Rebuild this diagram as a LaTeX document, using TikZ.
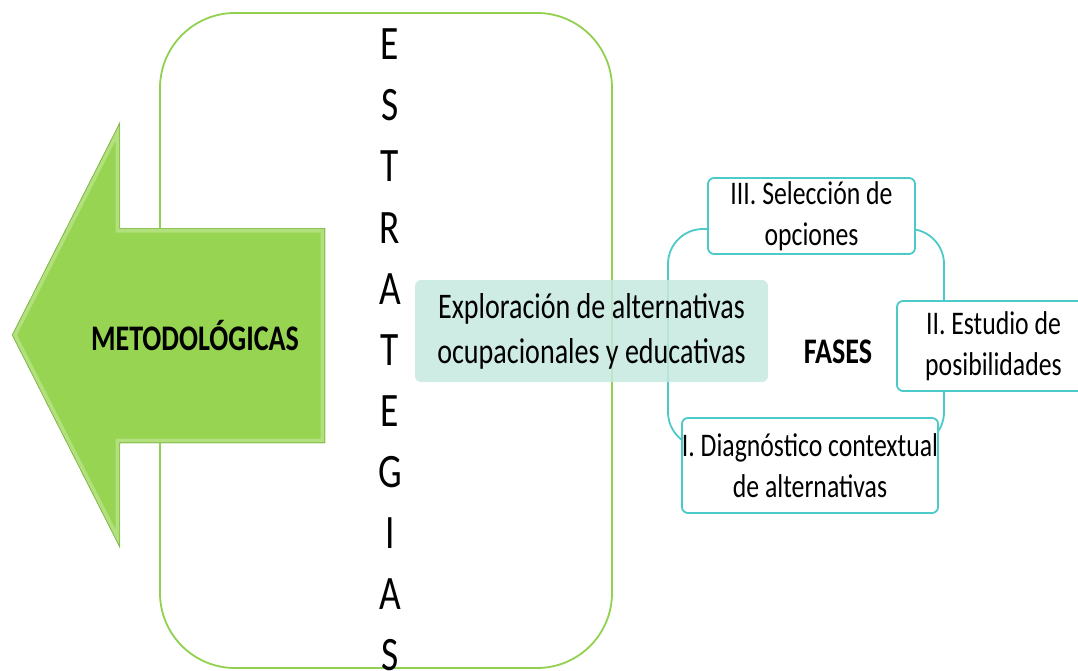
\documentclass[tikz,border=0pt]{standalone}
\usepackage{fontspec}
\setmainfont{Carlito}[FakeStretch=0.78]
\definecolor{lgreen}{HTML}{92D050}
\definecolor{arrowfill}{HTML}{96D451}
\definecolor{arrowrim}{HTML}{B2E07C}
\definecolor{tealc}{HTML}{4CC9C9}
\definecolor{mint}{HTML}{C5E9DF}
\begin{document}
\begin{tikzpicture}[x=1pt,y=-1pt,
  phase/.style={draw=tealc, line width=1.8pt, fill=white, rounded corners=6pt,
    inner sep=0pt, align=center, font=\fontsize{33pt}{41pt}\selectfont},
  letter/.style={anchor=base, inner sep=0pt, font=\fontsize{48pt}{58pt}\selectfont}]
\useasboundingbox (0,0) rectangle (1078,671);
\clip (0,0) rectangle (1078,671);
% big green frame
\draw[lgreen, line width=1.8pt, rounded corners=75pt] (160,13) rectangle (612,668);
% vertical word
\foreach \l [count=\i] in {E,S,T,R,A,T,E,G,I,A,S}
  \node[letter] (let\i) at (390, {60+61*(\i-1)}) {\l};
% arrow
\begin{scope}
  \clip (12,335) -- (120,122) -- (120,228) -- (325,228) -- (325,443) -- (120,443) -- (120,548) -- cycle;
  \fill[arrowfill] (12,335) -- (120,122) -- (120,228) -- (325,228) -- (325,443) -- (120,443) -- (120,548) -- cycle;
  \draw[arrowrim, line width=9pt, line join=miter] (12,335) -- (120,122) -- (120,228) -- (325,228) -- (325,443) -- (120,443) -- (120,548) -- cycle;
  \draw[lgreen!85!black, line width=1.2pt, line join=miter] (12,335) -- (120,122) -- (120,228) -- (325,228) -- (325,443) -- (120,443) -- (120,548) -- cycle;
\end{scope}
\node[font=\fontsize{36pt}{44pt}\selectfont\bfseries] (metod) at (195,336) {METODOLÓGICAS};
% cycle
\draw[tealc, line width=1.8pt, rounded corners=35pt] (668,229) rectangle (944,447);
% exploration box
\node[fill=mint, fill opacity=0.85, text opacity=1, rounded corners=6pt, inner sep=0pt,
  minimum width=353pt, minimum height=102pt, align=center,
  font=\fontsize{36pt}{45pt}\selectfont] (expl) at (591.5,331)
  {Exploración de alternativas\\ocupacionales y educativas};
% phases
\node[font=\fontsize{36pt}{44pt}\selectfont\bfseries] (fases) at (838,352) {FASES};
\node[phase, minimum width=207pt, minimum height=76pt] (p3) at (811.5,216) {III. Selección de\\opciones};
\node[phase, minimum width=193pt, minimum height=90pt] (p2) at (993.5,346) {II. Estudio de\\posibilidades};
\node[phase, minimum width=256pt, minimum height=95pt] (p1) at (810,465.5) {I. Diagnóstico contextual\\de alternativas};
\end{tikzpicture}
\end{document}
